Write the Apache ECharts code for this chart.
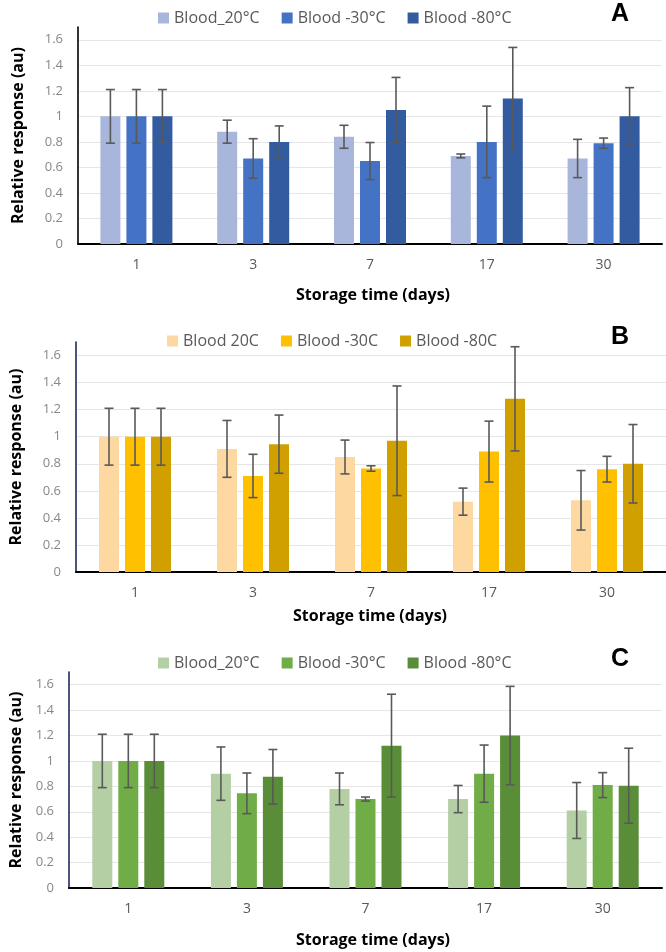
<!DOCTYPE html>
<html>
<head>
<meta charset="utf-8">
<script src="https://cdn.jsdelivr.net/npm/echarts@6/dist/echarts.min.js"></script>
<style>
  html, body { margin: 0; padding: 0; background: #fff; }
  body { width: 666px; height: 952px; position: relative; overflow: hidden; }
  .panel { position: absolute; left: 0; width: 666px; }
</style>
</head>
<body>
<div id="pa" class="panel" style="top:0;height:310px"></div>
<div id="pb" class="panel" style="top:310px;height:320px"></div>
<div id="pc" class="panel" style="top:630px;height:322px"></div>
<script>
// ---- Data ----
const categories = ['1', '3', '7', '17', '30'];
const yTicks = [0, 0.2, 0.4, 0.6, 0.8, 1, 1.2, 1.4, 1.6];

// Panel A
const namesA = ['Blood_20°C', 'Blood -30°C', 'Blood -80°C'];
const A_20 = [1.00, 0.88, 0.84, 0.69, 0.67];
const A_20_err = [0.21, 0.09, 0.09, 0.015, 0.15];
const A_30 = [1.00, 0.67, 0.65, 0.80, 0.79];
const A_30_err = [0.21, 0.155, 0.145, 0.28, 0.04];
const A_80 = [1.00, 0.80, 1.05, 1.14, 1.00];
const A_80_err = [0.21, 0.125, 0.255, 0.40, 0.225];

// Panel B
const namesB = ['Blood 20C', 'Blood -30C', 'Blood -80C'];
const B_20 = [1.00, 0.91, 0.85, 0.52, 0.53];
const B_20_err = [0.21, 0.21, 0.125, 0.10, 0.22];
const B_30 = [1.00, 0.71, 0.765, 0.89, 0.76];
const B_30_err = [0.21, 0.16, 0.02, 0.225, 0.095];
const B_80 = [1.00, 0.945, 0.97, 1.28, 0.80];
const B_80_err = [0.21, 0.215, 0.405, 0.385, 0.29];

// Panel C
const namesC = ['Blood_20°C', 'Blood -30°C', 'Blood -80°C'];
const C_20 = [1.00, 0.90, 0.78, 0.70, 0.61];
const C_20_err = [0.21, 0.21, 0.125, 0.107, 0.22];
const C_30 = [1.00, 0.745, 0.70, 0.90, 0.81];
const C_30_err = [0.21, 0.16, 0.016, 0.225, 0.098];
const C_80 = [1.00, 0.875, 1.12, 1.20, 0.805];
const C_80_err = [0.21, 0.215, 0.405, 0.387, 0.295];

const xTitle = 'Storage time (days)';
const yTitle = 'Relative response (au)';

// ---- Rendering ----
const FONT = '"Open Sans", "Noto Sans", sans-serif';

function buildPanel(elId, cfg) {
  const chart = echarts.init(document.getElementById(elId), null, { renderer: 'canvas' });
  const barW = 20;
  const step = 26;
  const series = [];
  cfg.values.forEach((vals, k) => {
    series.push({
      name: cfg.names[k],
      type: 'bar',
      data: vals,
      barWidth: barW,
      barGap: '30%',
      itemStyle: { color: cfg.colors[k] },
      z: 2
    });
  });
  cfg.values.forEach((vals, k) => {
    const errs = cfg.errors[k];
    const off = (k - 1) * step;
    series.push({
      type: 'custom',
      name: cfg.names[k] + ' err',
      z: 5,
      silent: true,
      data: vals.map((v, i) => [i, v - errs[i], v + errs[i]]),
      renderItem: function (params, api) {
        const lo = api.coord([api.value(0), api.value(1)]);
        const hi = api.coord([api.value(0), api.value(2)]);
        const x = lo[0] + off;
        const cap = 4.5;
        const st = { stroke: '#595959', lineWidth: 1.6 };
        return {
          type: 'group',
          children: [
            { type: 'line', shape: { x1: x, y1: lo[1], x2: x, y2: hi[1] }, style: st },
            { type: 'line', shape: { x1: x - cap, y1: lo[1], x2: x + cap, y2: lo[1] }, style: st },
            { type: 'line', shape: { x1: x - cap, y1: hi[1], x2: x + cap, y2: hi[1] }, style: st }
          ]
        };
      }
    });
  });

  chart.setOption({
    animation: false,
    textStyle: { fontFamily: FONT },
    legend: {
      data: cfg.names,
      left: cfg.legendLeft,
      top: cfg.legendTop,
      icon: 'rect',
      itemWidth: 11,
      itemHeight: 11,
      itemGap: 22,
      textStyle: { color: '#595959', fontSize: 16, fontFamily: FONT }
    },
    graphic: [{
      type: 'text',
      x: 620, y: cfg.legendTop + 9,
      style: {
        text: cfg.letter, fill: '#000', fontSize: 25, fontWeight: 'bold',
        fontFamily: '"Liberation Sans", Arial, sans-serif',
        textAlign: 'center', textVerticalAlign: 'middle'
      }
    }, {
      type: 'text',
      x: cfg.xTitleX, y: cfg.xTitleY,
      style: {
        text: xTitle, fill: '#000', fontSize: 16, fontWeight: 'bold',
        fontFamily: FONT, textAlign: 'center', textVerticalAlign: 'middle'
      }
    }],
    grid: { left: cfg.grid.left, top: cfg.grid.top, width: cfg.grid.width, height: cfg.grid.height },
    xAxis: {
      type: 'category',
      data: categories,
      axisLine: { lineStyle: { color: '#000', width: 2 } },
      axisTick: { show: false },
      axisLabel: { color: '#595959', fontSize: 14, margin: 14, fontFamily: FONT }
    },
    yAxis: {
      type: 'value',
      min: 0,
      max: 1.7,
      interval: 0.2,
      axisLine: { show: true, lineStyle: { color: cfg.yAxisColor, width: 1.6 } },
      axisTick: { show: false },
      axisLabel: {
        color: '#888888', fontSize: 13, margin: 15, fontFamily: FONT,
        showMaxLabel: false,
        formatter: function (v) { return yTicks.indexOf(Math.round(v * 10) / 10) >= 0 ? String(Math.round(v * 10) / 10) : ''; }
      },
      splitLine: { show: true, showMaxLine: false, lineStyle: { color: '#e6e6e6', width: 1 } },
      name: yTitle,
      nameLocation: 'middle',
      nameGap: cfg.yNameGap,
      nameTextStyle: { color: '#000', fontSize: 16, fontWeight: 'bold', fontFamily: FONT }
    },
    series: series
  });
}

buildPanel('pa', {
  letter: 'A',
  names: namesA,
  values: [A_20, A_30, A_80],
  errors: [A_20_err, A_30_err, A_80_err],
  colors: ['#a9b6db', '#4472c4', '#335b9f'],
  yAxisColor: '#000000',
  legendLeft: 153, legendTop: 5,
  grid: { left: 78, top: 27, width: 584, height: 217 },
  xTitleX: 373, xTitleY: 295,
  yNameGap: 52
});

buildPanel('pb', {
  letter: 'B',
  names: namesB,
  values: [B_20, B_30, B_80],
  errors: [B_20_err, B_30_err, B_80_err],
  colors: ['#fdd8a0', '#ffc000', '#cfa000'],
  yAxisColor: '#1f2a5c',
  legendLeft: 162, legendTop: 18,
  grid: { left: 72, top: 32, width: 595, height: 230 },
  xTitleX: 370, xTitleY: 306,
  yNameGap: 52
});

buildPanel('pc', {
  letter: 'C',
  names: namesC,
  values: [C_20, C_30, C_80],
  errors: [C_20_err, C_30_err, C_80_err],
  colors: ['#b4cfa4', '#70ad47', '#5a8d38'],
  yAxisColor: '#1f2a5c',
  legendLeft: 153, legendTop: 20,
  grid: { left: 63, top: 42, width: 599, height: 216 },
  xTitleX: 373, xTitleY: 310,
  yNameGap: 45
});
</script>
</body>
</html>
